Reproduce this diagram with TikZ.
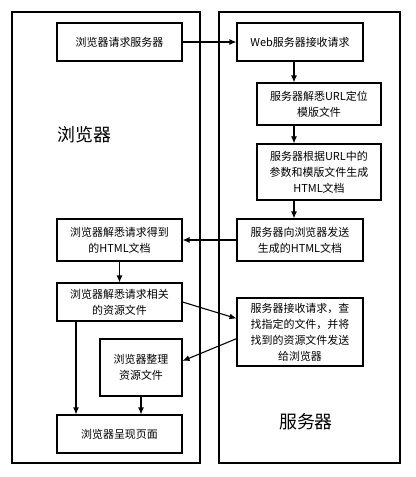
\documentclass[tikz,border=0pt]{standalone}
\usepackage{fontspec}
\setmainfont{Noto Sans CJK SC}
\usepackage{tikz}
\usetikzlibrary{positioning,arrows,arrows.meta,calc}
\tikzset{
    block/.style = {
        draw,
        shape=rectangle,
        align=center,
        inner sep=0pt,
        minimum height=38bp,
        minimum width=125bp,
        line width=1.1bp,
        font=\fontsize{11}{16}\selectfont
    },
    side/.style = {
        draw,
        shape=rectangle,
        line width=1.1bp
    },
    title/.style = {
        font=\fontsize{18}{20}\selectfont
    },
    link/.style = {
        draw,
        line width=1.1bp,
        ->
    },
    >={Latex[length=7bp,width=6bp]},
}

\begin{document}
\begin{tikzpicture}[x=1bp,y=-1bp]
                \useasboundingbox (0,0) rectangle (415,477);
                \path[side] (12,12) rectangle (200,463);
                \path[side] (219,12) rectangle (400,463);
                \node[title] (browser) at (84.5,135) {浏览器};
                \node[title] (server) at (306,422) {服务器};

                \node[block] (req) at (119.5,42) {浏览器请求服务器};
                \node[block, minimum width=126bp] (recv) at (300,42) {Web服务器接收请求};
                \node[block, minimum width=124bp, minimum height=42bp] (locate) at (319,104) {服务器解悉URL定位\\模版文件};
                \node[block, minimum width=124bp, minimum height=56bp] (gen) at (319,172) {服务器根据URL中的\\参数和模版文件生成\\HTML文档};
                \node[block, minimum width=126bp, minimum height=42bp] (send) at (300,240) {服务器向浏览器发送\\生成的HTML文档};
                \node[block, minimum height=42bp] (html) at (119.5,240) {浏览器解悉请求得到\\的HTML文档};
                \node[block] (res) at (119.5,302) {浏览器解悉请求相关\\的资源文件};
                \node[block, minimum width=126bp, minimum height=68bp] (find) at (300,332) {服务器接收请求，查\\找指定的文件，并将\\找到的资源文件发送\\给浏览器};
                \node[block, minimum width=82bp, minimum height=57bp] (tidy) at (141,367.5) {浏览器整理\\资源文件};
                \node[block] (show) at (119.5,434) {浏览器呈现页面};
                \coordinate (spine) at (294,0);
                \coordinate (col) at (76,0);

                \path[link] (req) -- (recv);
                \path[link] (recv.south -| spine) -- (locate.north -| spine);
                \path[link] (locate.south -| spine) -- (gen.north -| spine);
                \path[link] (gen.south -| spine) -- (send.north -| spine);
                \path[link] (send) -- (html);
                \path[link] (html) -- (res);
                \path[link] (res.east) -- (find.168);
                \path[link] (find.186) -- (tidy.9);
                \path[link] (res.south -| col) -- (show.north -| col);
                \path[link] (tidy) -- (tidy |- show.north);
            \end{tikzpicture}
\end{document}
